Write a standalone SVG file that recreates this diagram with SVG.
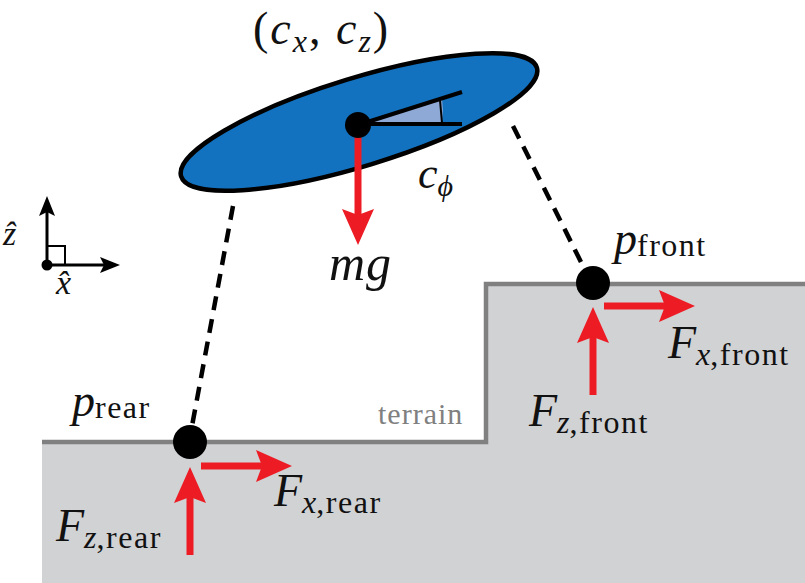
<svg xmlns="http://www.w3.org/2000/svg" width="805" height="583" viewBox="0 0 805 583">
<style>
.m{font-family:"Liberation Serif","DejaVu Serif",serif;fill:#111;}
.i{font-style:italic;}
.s{font-style:normal;font-size:32px;letter-spacing:1.5px;}
.red{stroke:#ed1c24;stroke-width:7;fill:none;}
.blk{stroke:#000;stroke-width:3;fill:none;}
.leg{stroke:#000;stroke-width:4.5;stroke-dasharray:14 9;fill:none;}
</style>
<defs>
<marker id="rh" markerUnits="userSpaceOnUse" markerWidth="36" markerHeight="32" viewBox="0 0 36 32" refX="6" refY="16" orient="auto">
<path d="M0,0 L36,16 L0,32 L6,16 z" fill="#ed1c24"/>
</marker>
<marker id="bh" markerUnits="userSpaceOnUse" markerWidth="20" markerHeight="16" viewBox="0 0 20 16" refX="4" refY="8" orient="auto">
<path d="M0,0 L20,8 L0,16 L4,8 z" fill="#000"/>
</marker>
</defs>
<g id="terrain">
<path d="M42,442 L486,442 L486,284 L805,284 L805,583 L42,583 z" fill="#d1d2d4"/>
<path d="M42,442 L486,442 L486,284 L805,284" stroke="#808080" stroke-width="4.5" fill="none"/>
<text x="378" y="424" font-family="Liberation Serif, serif" font-size="30" letter-spacing="1" fill="#808080">terrain</text>
</g>
<g id="connectors">
<line class="leg" x1="233" y1="206" x2="192" y2="426"/>
<line class="leg" x1="513" y1="126" x2="584" y2="268"/>
</g>
<g id="body">
<ellipse cx="359" cy="122" rx="186" ry="44" transform="rotate(-17 359 122)" fill="#1372bf" stroke="#000" stroke-width="4.5"/>
<path d="M358,125 L442,98 A85,85 0 0 1 442,123 z" fill="#8ea9d6"/>
<line x1="440" y1="100" x2="442" y2="123" stroke="#000" stroke-width="2"/>
<line x1="358" y1="125" x2="462" y2="92" stroke="#000" stroke-width="4"/>
<line x1="358" y1="124" x2="462" y2="124" stroke="#000" stroke-width="4"/>
<line class="red" x1="358" y1="136" x2="358" y2="215" marker-end="url(#rh)"/>
<circle cx="358" cy="125" r="13" fill="#000"/>
<text class="m" x="253" y="44" font-size="46" letter-spacing="2">(<tspan class="i">c</tspan><tspan class="i" font-size="32" dy="8">x</tspan><tspan dy="-8">, </tspan><tspan class="i">c</tspan><tspan class="i" font-size="32" dy="8">z</tspan><tspan dy="-8">)</tspan></text>
<text class="m i" x="418" y="188" font-size="44">c<tspan font-size="30" dy="8">ϕ</tspan></text>
<text class="m i" x="329" y="280" font-size="50" letter-spacing="1">mg</text>
</g>
<g id="frame">
<line class="blk" x1="47" y1="265" x2="47" y2="212" marker-end="url(#bh)"/>
<line class="blk" x1="47" y1="265" x2="104" y2="265" marker-end="url(#bh)"/>
<path d="M47,246 L65,246 L65,265" stroke="#000" stroke-width="2" fill="none"/>
<circle cx="47" cy="265" r="5.5" fill="#000"/>
<text class="m i" x="3" y="245" font-size="34">ẑ</text>
<text class="m i" x="56" y="294" font-size="34">x̂</text>
</g>
<g id="rear-foot">
<line class="red" x1="190" y1="555" x2="190" y2="497" marker-end="url(#rh)"/>
<line class="red" x1="201" y1="466" x2="262" y2="466" marker-end="url(#rh)"/>
<circle cx="190" cy="442" r="17" fill="#000"/>
<text class="m i" x="72" y="416" font-size="46">p<tspan class="s" dy="2">rear</tspan></text>
<text class="m i" x="274" y="506" font-size="46">F<tspan font-size="32" dy="7">x</tspan><tspan class="s">,rear</tspan></text>
<text class="m i" x="56" y="541" font-size="46">F<tspan font-size="32" dy="7">z</tspan><tspan class="s">,rear</tspan></text>
</g>
<g id="front-foot">
<line class="red" x1="593" y1="395" x2="593" y2="337" marker-end="url(#rh)"/>
<line class="red" x1="604" y1="306" x2="665" y2="306" marker-end="url(#rh)"/>
<circle cx="593" cy="283" r="17" fill="#000"/>
<text class="m i" x="614" y="254" font-size="46">p<tspan class="s" dy="2">front</tspan></text>
<text class="m i" x="668" y="358" font-size="46">F<tspan font-size="32" dy="7">x</tspan><tspan class="s">,front</tspan></text>
<text class="m i" x="529" y="426" font-size="46">F<tspan font-size="32" dy="7">z</tspan><tspan class="s">,front</tspan></text>
</g>
</svg>
